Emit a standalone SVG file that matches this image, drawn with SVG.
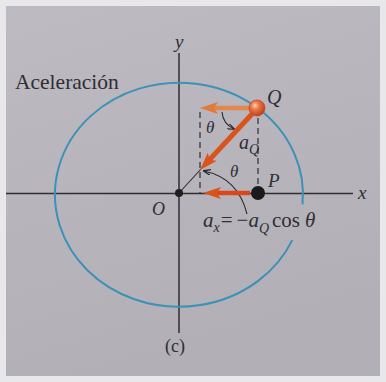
<svg xmlns="http://www.w3.org/2000/svg" width="386" height="382" viewBox="0 0 386 382">
<defs>
<linearGradient id="bg" x1="0" y1="0" x2="0.3" y2="1">
<stop offset="0" stop-color="#bdbac2"/>
<stop offset="1" stop-color="#b2afb7"/>
</linearGradient>
<radialGradient id="ball" cx="0.38" cy="0.35" r="0.7">
<stop offset="0" stop-color="#fbd2b4"/>
<stop offset="0.35" stop-color="#ec7a48"/>
<stop offset="1" stop-color="#b9391a"/>
</radialGradient>
<marker id="hOr" viewBox="0 0 18 12" refX="8" refY="6" markerWidth="18" markerHeight="12" orient="auto" markerUnits="userSpaceOnUse">
<path d="M0,0 L18,6 L0,12 L4,6 z" fill="#d9531a"/>
</marker>
<marker id="hLt" viewBox="0 0 18 12" refX="8" refY="6" markerWidth="18" markerHeight="12" orient="auto" markerUnits="userSpaceOnUse">
<path d="M0,0 L18,6 L0,12 L4,6 z" fill="#e07a3e"/>
</marker>
<marker id="hBk" viewBox="0 0 8 6" refX="7" refY="3" markerWidth="8" markerHeight="6" orient="auto" markerUnits="userSpaceOnUse">
<path d="M0,0 L8,3 L0,6" fill="none" stroke="#2a2a2a" stroke-width="1.2"/>
</marker>
</defs>
<style>
text{font-family:"Liberation Serif","DejaVu Serif",serif;fill:#2e2e33}
.i{font-style:italic}
.ax{stroke:#2e2e33;stroke-width:1.5;fill:none}
.ds{stroke:#2e2e33;stroke-width:1.2;stroke-dasharray:6 4;fill:none}
.th{stroke:#2a2a2a;stroke-width:1.1;fill:none}
</style>
<rect width="386" height="382" fill="#e8e8ea"/>
<rect x="6" y="6" width="374" height="370" fill="url(#bg)"/>

<g id="axes">
<line class="ax" x1="6" y1="193.5" x2="353" y2="193.5"/>
<line class="ax" x1="179" y1="53" x2="179" y2="333"/>
</g>
<g id="circle">
<path d="M 292.3 240.1 A 124 112 0 1 1 302.5 204.3" fill="none" stroke="#3c91b6" stroke-width="2"/>
</g>

<g id="connectors">
<line class="ds" x1="200" y1="112" x2="200" y2="193"/>
<line class="ds" x1="258" y1="118" x2="258" y2="186"/>
<line class="th" x1="179" y1="193" x2="201" y2="169"/>
<path class="th" d="M 222 112 Q 223 124 234 129" marker-end="url(#hBk)"/>
<path class="th" d="M 247 214 Q 238 178 204 171" marker-end="url(#hBk)"/>
<line x1="250" y1="108" x2="210" y2="108" stroke="#e2874e" stroke-width="4.5" marker-end="url(#hLt)"/>
<line x1="252" y1="114" x2="206.8" y2="162.6" stroke="#d9531a" stroke-width="5" marker-end="url(#hOr)"/>
<line x1="250" y1="193" x2="213" y2="193" stroke="#d9481c" stroke-width="4.5" marker-end="url(#hOr)"/>
</g>

<g id="nodeO">
<circle cx="179" cy="193" r="4" fill="#1e1e1e"/>
<text class="i" x="152" y="215" font-size="18">O</text>
</g>
<g id="nodeP">
<circle cx="258" cy="193" r="7" fill="#1a1a1a"/>
<text class="i" x="268" y="187" font-size="19">P</text>
</g>
<g id="nodeQ">
<circle cx="257" cy="108" r="8" fill="url(#ball)" stroke="#c44a1e" stroke-width="0.8"/>
<text class="i" x="267" y="104" font-size="20">Q</text>
</g>

<g id="labels">
<text x="15" y="89" font-size="21.5">Aceleración</text>
<text class="i" x="175" y="48" font-size="19">y</text>
<text class="i" x="358" y="199" font-size="19">x</text>
<text class="i" x="206" y="133" font-size="17">θ</text>
<text class="i" x="230" y="177" font-size="17">θ</text>
<text class="i" x="239" y="149" font-size="20">a<tspan font-size="14" dy="5">Q</tspan></text>
<text x="203" y="227" font-size="21"><tspan class="i">a</tspan><tspan class="i" font-size="14" dy="5">x</tspan><tspan dy="-5" dx="1">=</tspan><tspan dx="4">−</tspan><tspan class="i">a</tspan><tspan class="i" font-size="14" dy="6">Q</tspan><tspan dy="-6" dx="3">cos</tspan><tspan class="i" dx="5">θ</tspan></text>
<text x="175" y="352" font-size="18" text-anchor="middle">(c)</text>
</g>
</svg>
